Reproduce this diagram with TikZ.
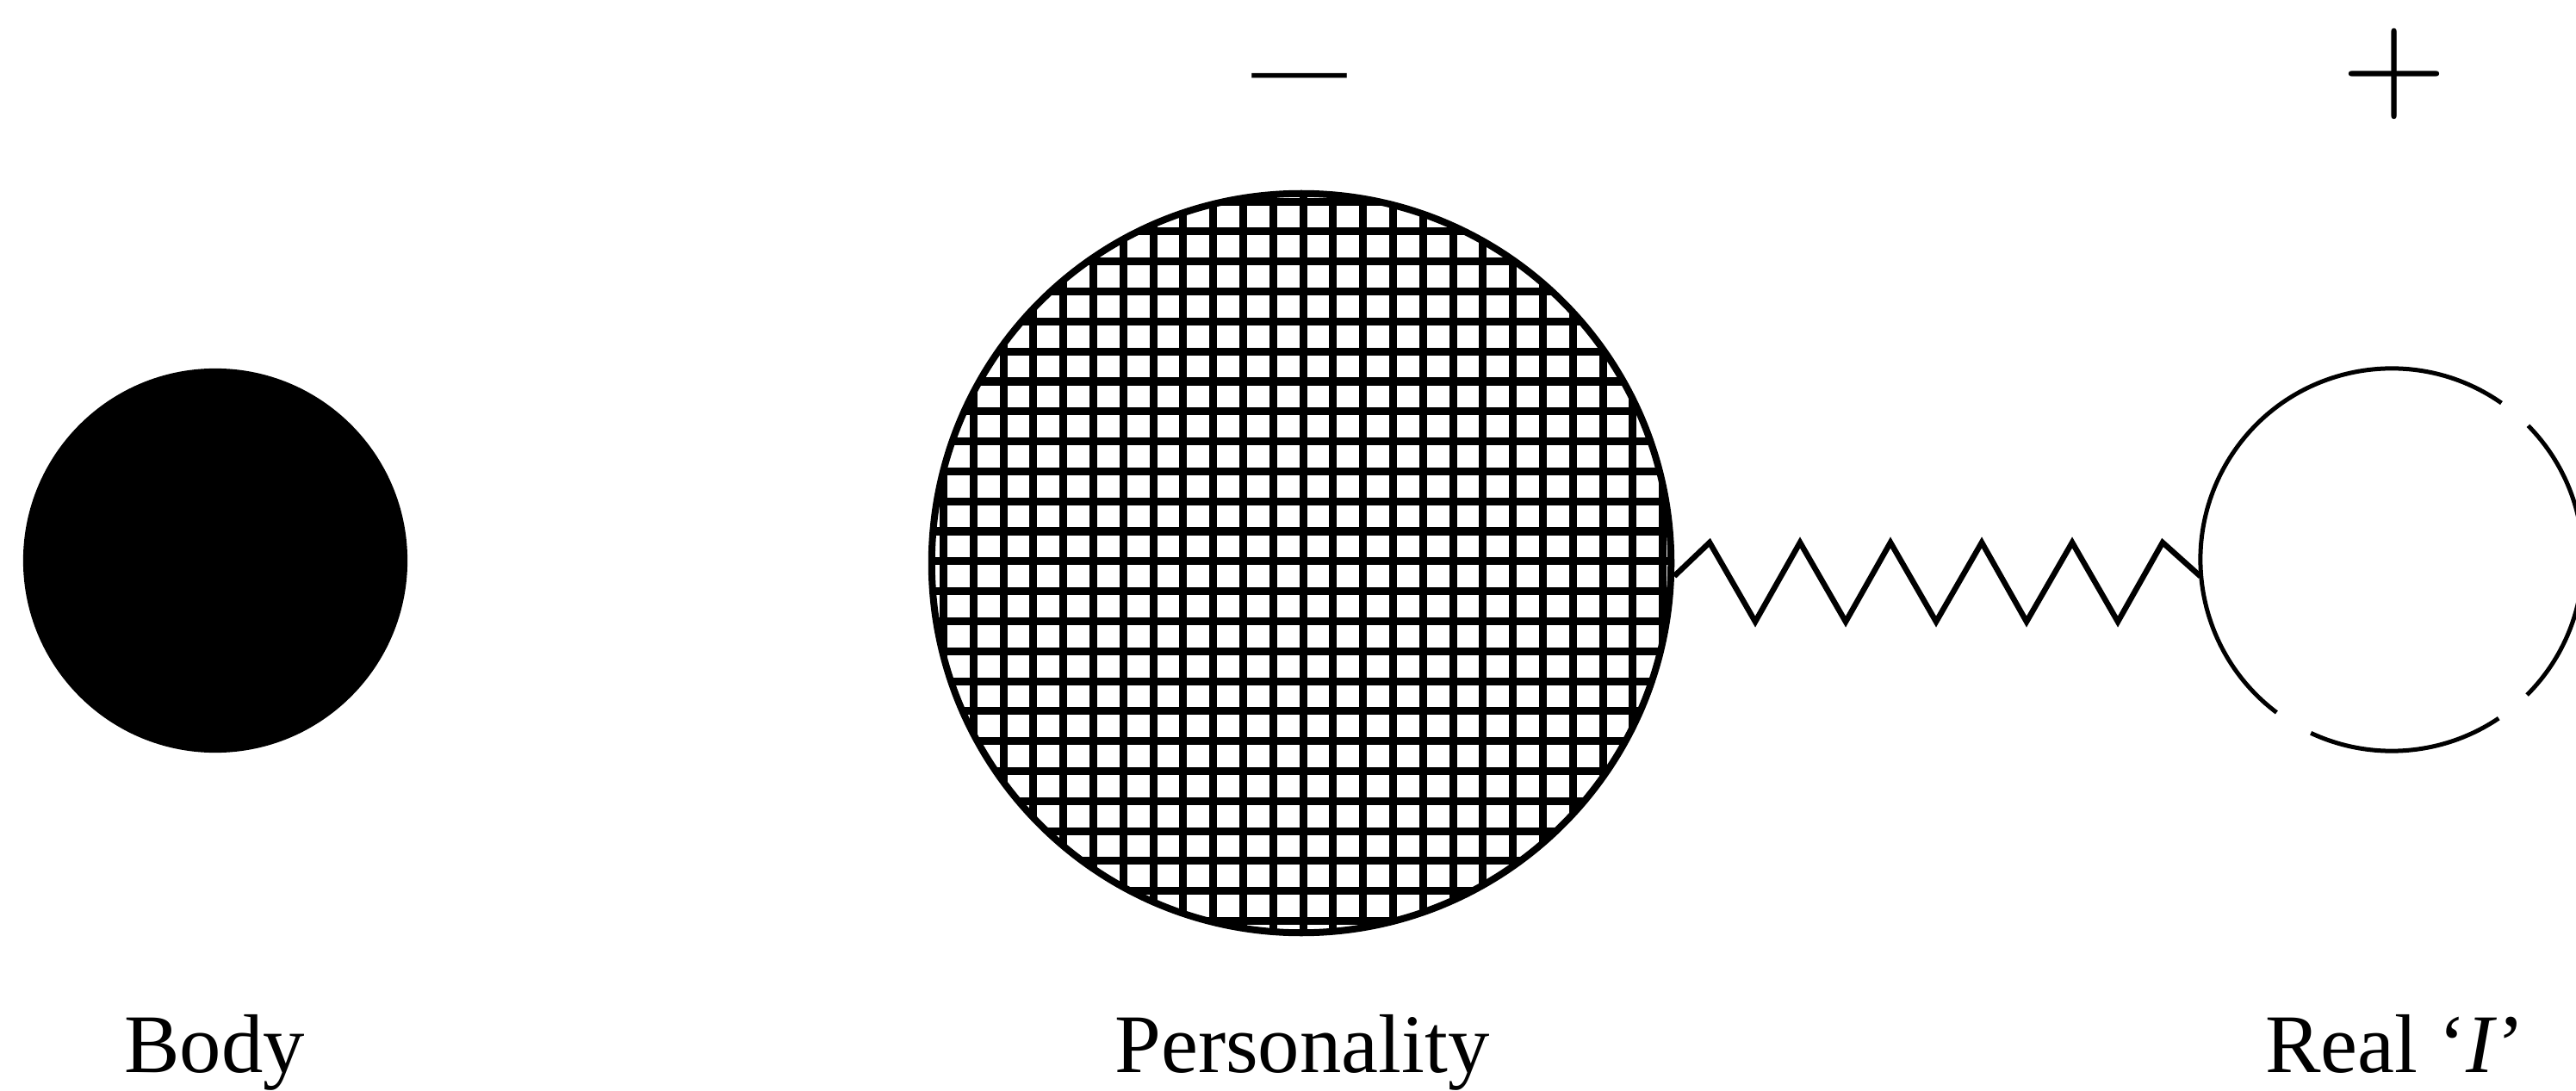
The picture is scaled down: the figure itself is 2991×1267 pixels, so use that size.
\documentclass[tikz,border=0pt]{standalone}
\usepackage{fontspec}
\setmainfont{Liberation Serif}
\newfontfamily\lmsigns{lmroman10-regular.otf}
\begin{document}
\begin{tikzpicture}[x=0.01cm,y=-0.01cm]
\tikzset{
  lbl/.style={font=\fontsize{27.5}{30}\selectfont, anchor=base, inner sep=0pt},
  gridline/.style={line width=0.09cm, black},
  border/.style={draw=black, line width=0.08cm},
  zig/.style={draw=black, line width=0.065cm, line join=miter},
  ring/.style={draw=black, line width=0.05cm}
}
\useasboundingbox (0,0) rectangle (2991,1267);
\fill[white] (0,0) rectangle (2991,1267);
% Body
\node[circle, fill=black, minimum size=4.46cm, inner sep=0pt] (body) at (250,651) {};
% Personality grid
\begin{scope}
  \clip (1511,654) circle[radius=429];
  \foreach \k in {-9,...,17} {
    \draw[gridline] ({1339+34.8*\k},200) -- ({1339+34.8*\k},1110);
  }
  \foreach \k in {-7,...,19} {
    \draw[gridline] (1060,{443+34.8*\k}) -- (1960,{443+34.8*\k});
  }
\end{scope}
\node[circle, border, minimum size=8.58cm, inner sep=0pt] (pers) at (1511,654) {};
% Real I
\node[circle, minimum size=4.44cm, inner sep=0pt] (real) at (2777,650) {};
\begin{scope}[shift={(real.center)}, x=1cm, y=1cm]
  \draw[ring] (55:2.22) arc[start angle=55, end angle=233, radius=2.22];
  \draw[ring] (245:2.22) arc[start angle=245, end angle=304, radius=2.22];
  \draw[ring] (315:2.22) arc[start angle=315, end angle=404.5, radius=2.22];
\end{scope}
% zigzag connector
\draw[zig] (pers.-2) -- (1985,630) -- (2038,722) -- (2090,630) -- (2143,722)
  -- (2195,630) -- (2248,722) -- (2301,630) -- (2353,722) -- (2406,630)
  -- (2459,722) -- (2511,630) -- (real.185);
% signs
\node[anchor=base, font=\fontsize{31}{31}\selectfont, inner sep=0pt] (minus) at (1509,114) {\textemdash};
\node[font=\lmsigns\fontsize{45}{45}\selectfont, inner sep=0pt] (plus) at (2780,86) {+};
% labels
\node[lbl] (bodylbl) at (249,1245) {Body};
\node[lbl] (perslbl) at (1512,1245) {Personality};
\node[lbl] (reallbl) at (2781,1245) {Real ‘\textit{I}’};
\end{tikzpicture}
\end{document}
